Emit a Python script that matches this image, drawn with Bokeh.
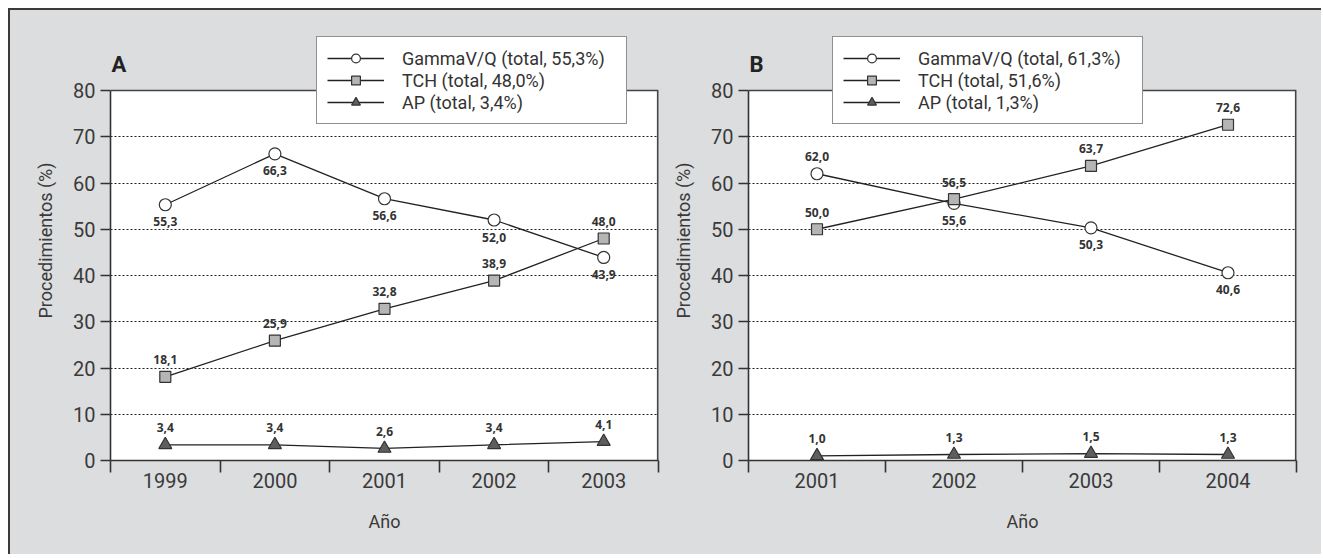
from bokeh.plotting import figure
from bokeh.models import (FixedTicker, Legend, LegendItem, Label, ColumnDataSource, Range1d)
from bokeh.layouts import row
from bokeh.embed import file_html
from bokeh.resources import INLINE
from bokeh.core.properties import value

# ---------------- data ----------------
years_a = [1999, 2000, 2001, 2002, 2003]
gamma_a = [55.3, 66.3, 56.6, 52.0, 43.9]
tch_a = [18.1, 25.9, 32.8, 38.9, 48.0]
ap_a = [3.4, 3.4, 2.6, 3.4, 4.1]
legend_a = ["GammaV/Q (total, 55,3%)", "TCH (total, 48,0%)", "AP (total, 3,4%)"]

years_b = [2001, 2002, 2003, 2004]
gamma_b = [62.0, 55.6, 50.3, 40.6]
tch_b = [50.0, 56.5, 63.7, 72.6]
ap_b = [1.0, 1.3, 1.5, 1.3]
legend_b = ["GammaV/Q (total, 61,3%)", "TCH (total, 51,6%)", "AP (total, 1,3%)"]

y_ticks = [0, 10, 20, 30, 40, 50, 60, 70, 80]
x_title = "Año"
y_title = "Procedimientos (%)"

# label side: 1 = above point, -1 = below point
gamma_side_a = [-1, -1, -1, -1, -1]
tch_side_a = [1, 1, 1, 1, 1]
ap_side_a = [1, 1, 1, 1, 1]
gamma_side_b = [1, -1, -1, -1]
tch_side_b = [1, 1, 1, 1]
ap_side_b = [1, 1, 1, 1]

# ---------------- style ----------------
BG = "#dcdddf"
TICK_FONT = "Roboto"
LEG_FONT = "Roboto"
LAB_FONT = "Open Sans"
PX_PER_UNIT = 370 / 80.0
FRAME_H = 440


def fmt(v):
    return ("%.1f" % v).replace(".", ",")


def make_panel(years, gamma, tch, ap, legend_labels, sides, letter,
               min_left, min_right, legend_x, letter_x):
    x0 = years[0] - 0.5
    x1 = years[-1] + 0.5
    ymin, ymax = y_ticks[0], y_ticks[-1]
    p = figure(frame_width=548, frame_height=FRAME_H,
               min_border_left=min_left, min_border_right=min_right,
               min_border_top=10, min_border_bottom=94,
               x_range=Range1d(x0, x1),
               y_range=Range1d(ymin, FRAME_H / PX_PER_UNIT),
               output_backend="svg", toolbar_location=None,
               background_fill_color=BG, border_fill_color=BG)
    p.outline_line_color = None

    # white plotting area and its top/right border
    p.quad(left=[x0], right=[x1], bottom=[ymin], top=[ymax],
           fill_color="white", line_color=None, level="image")
    p.line([x0, x1], [ymax, ymax], line_color="#444444", line_width=1.6)
    p.line([x1, x1], [ymin, ymax], line_color="#444444", line_width=3.2)

    # x axis: labels at years, tick marks at boundaries
    bounds = [y - 0.5 for y in years] + [years[-1] + 0.5]
    xa = p.xaxis[0]
    xa.ticker = FixedTicker(ticks=years, minor_ticks=bounds)
    xa.major_tick_out = 0
    xa.major_tick_in = 0
    xa.minor_tick_in = 0
    xa.minor_tick_out = 12
    xa.minor_tick_line_color = "#333333"
    xa.minor_tick_line_width = 1.6
    xa.axis_line_color = "#333333"
    xa.axis_line_width = 1.6
    xa.major_label_standoff = 0
    xa.major_label_text_font = TICK_FONT
    xa.major_label_text_font_size = "20px"
    xa.major_label_text_color = "#3a3a3a"
    xa.axis_label = x_title
    xa.axis_label_text_font = TICK_FONT
    xa.axis_label_text_font_size = "18px"
    xa.axis_label_text_font_style = "normal"
    xa.axis_label_text_color = "#3a3a3a"
    xa.axis_label_standoff = 20

    ya = p.yaxis[0]
    ya.ticker = FixedTicker(ticks=y_ticks)
    ya.bounds = (ymin, ymax)
    ya.major_tick_out = 10
    ya.major_tick_in = 0
    ya.minor_tick_line_color = None
    ya.major_tick_line_color = "#333333"
    ya.major_tick_line_width = 1.6
    ya.axis_line_color = "#333333"
    ya.axis_line_width = 1.6
    ya.major_label_standoff = 5
    ya.major_label_text_font = TICK_FONT
    ya.major_label_text_font_size = "20px"
    ya.major_label_text_color = "#3a3a3a"
    ya.axis_label = y_title
    ya.axis_label_text_font = TICK_FONT
    ya.axis_label_text_font_size = "18px"
    ya.axis_label_text_font_style = "normal"
    ya.axis_label_text_color = "#3a3a3a"
    ya.axis_label_standoff = 14

    p.xgrid.grid_line_color = None
    p.ygrid.ticker = FixedTicker(ticks=y_ticks[1:-1])
    p.ygrid.grid_line_color = "#222222"
    p.ygrid.grid_line_dash = "2 2"
    p.ygrid.grid_line_width = 1

    specs = [
        (gamma, "circle", "white", 12),
        (tch, "square", "#b5b5b5", 11),
        (ap, "triangle", "#5e5e5e", 13),
    ]
    items = []
    for (vals, marker, fill, size), lab, side in zip(specs, legend_labels, sides):
        src = ColumnDataSource(dict(
            x=years, y=vals, t=[fmt(v) for v in vals],
            off=[-17 if s > 0 else 17 for s in side]))
        lr = p.line("x", "y", source=src, line_color="#222222", line_width=1.3)
        sr = p.scatter("x", "y", source=src, marker=marker, size=size,
                       fill_color=fill, line_color="#333333", line_width=1.2)
        p.text("x", "y", text="t", source=src, y_offset="off",
               text_font=value(LAB_FONT), text_font_style="bold",
               text_font_size="12px", text_color="#333333",
               text_align="center", text_baseline="middle")
        items.append(LegendItem(label=lab, renderers=[lr, sr]))

    leg = Legend(items=items, location=(legend_x, 336))
    leg.border_line_color = "#222222"
    leg.border_line_width = 1.2
    leg.background_fill_color = "white"
    leg.background_fill_alpha = 1.0
    leg.label_text_font = LEG_FONT
    leg.label_text_font_size = "18px"
    leg.label_text_color = "#333333"
    leg.glyph_width = 57
    leg.glyph_height = 22
    leg.label_height = 22
    leg.label_width = 214
    leg.label_standoff = 18
    leg.padding = 10
    leg.spacing = 0
    leg.margin = 0
    p.add_layout(leg)

    p.add_layout(Label(x=letter_x, y=396, x_units="screen", y_units="screen",
                       text=letter, text_font="Roboto",
                       text_font_style="bold", text_font_size="22px",
                       text_color="#222222", text_baseline="middle"))
    return p


pa = make_panel(years_a, gamma_a, tch_a, ap_a, legend_a,
                [gamma_side_a, tch_side_a, ap_side_a], "A",
                100, 10, 206, 1)
pb = make_panel(years_b, gamma_b, tch_b, ap_b, legend_b,
                [gamma_side_b, tch_side_b, ap_side_b], "B",
                80, 25, 84, 1)

layout = row(pa, pb, spacing=0,
             styles={"border-top": "2px solid #3a3a3a",
                     "border-left": "2px solid #3a3a3a",
                     "margin": "8px 0px 0px 8px",
                     "background-color": BG})

open("out.html", "w").write(file_html(layout, INLINE))
